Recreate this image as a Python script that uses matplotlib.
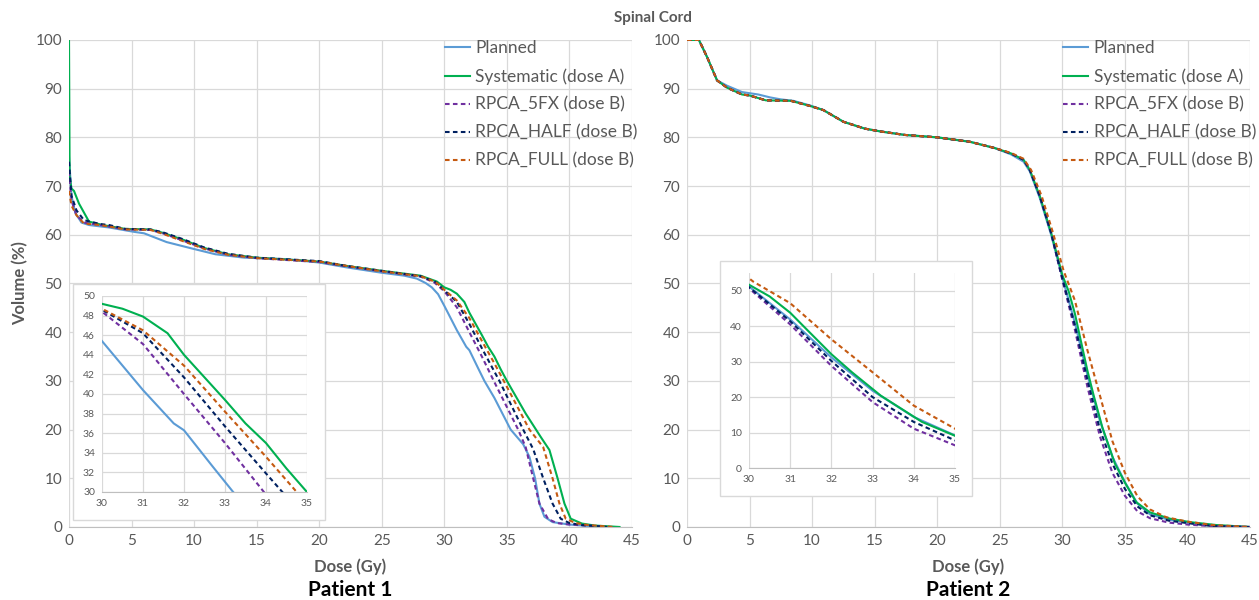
"""Spinal cord DVH comparison for two patients, with zoomed insets."""

import matplotlib
matplotlib.use("Agg")
import matplotlib.pyplot as plt
from matplotlib.patches import Rectangle

plt.rcParams["font.family"] = ["Lato", "DejaVu Sans"]

# ---- Patient 1 (dose in Gy, volume in %) ----
p1_planned_dose = [0, 0.2, 0.5, 1.0, 1.6, 3.2, 5.2, 6.0, 6.5, 7.8, 9.8, 11.7, 14, 17.3, 20, 22.2,
                   25, 26.8, 27.8, 28.5, 29.0, 29.5, 30, 31, 31.75, 32.0, 32.7, 33.2, 34, 35.3, 36.3,
                   36.8, 37.25, 37.6, 38.0, 38.65, 40, 42, 43]
p1_planned_vol = [76, 68, 64.5, 62.5, 62, 61.5, 60.6, 60.3, 59.8, 58.5, 57.2, 56, 55.3, 55, 54.3, 53.3,
                  52.2, 51.6, 51.0, 50.1, 49.2, 47.8, 45.4, 40.4, 37.0, 36.3, 32.6, 30, 26.5, 20, 17,
                  14.4, 10, 4.8, 2.1, 1.0, 0.5, 0.1, 0]

p1_syst_dose = [0, 0.05, 0.2, 0.4, 0.8, 1.6, 2.7, 4.5, 6.5, 7.5, 9.1, 10.8, 12.7, 15, 20, 22.2, 25,
                28.1, 29.4, 30, 30.5, 31, 31.6, 32, 32.5, 33, 33.5, 33.8, 34, 34.5, 35, 36.5,
                37.7, 38.4, 39.05, 39.6, 40.1, 41, 42, 44]
p1_syst_vol = [100, 72, 69.5, 69, 66.4, 62.7, 62, 61.2, 61.1, 60.4, 59, 57.3, 56, 55.3, 54.5, 53.6,
               52.6, 51.6, 50.4, 49.2, 48.7, 47.9, 46.2, 44, 41.7, 39.4, 37, 35.8, 35, 32.4, 30,
               23.3, 18.5, 15.8, 10, 4.8, 1.7, 0.7, 0.3, 0]

p1_5fx_dose = [0, 0.2, 0.6, 1.2, 2.5, 4.5, 6.5, 7.5, 9.1, 10.8, 12.7, 15, 20, 22.2, 25, 28.1, 29.2,
               30, 31, 32, 33, 33.95, 35.9, 36.5, 37.1, 37.6, 38.3, 39, 40, 42, 43]
p1_5fx_vol = [73, 67, 64, 62.5, 62, 61.1, 61, 60.3, 58.8, 57.2, 55.9, 55.2, 54.4, 53.5, 52.5, 51.4,
              50.2, 48.4, 45.1, 40, 35, 30, 20, 16.4, 10, 4.8, 1.6, 0.8, 0.5, 0.2, 0]

p1_half_dose = [0, 0.2, 0.6, 1.2, 2.5, 3.2, 4.5, 6.5, 7.5, 9.1, 10.8, 12.7, 15, 20, 22.2, 25, 28.1,
                29.3, 30, 31, 32, 33, 34, 34.4, 36.3, 37.1, 37.9, 38.65, 39.3, 40, 41, 43]
p1_half_vol = [75, 68, 65, 63, 62.2, 62, 61.2, 61.1, 60.5, 59.1, 57.4, 56.1, 55.3, 54.6, 53.6, 52.6,
               51.5, 50.3, 48.6, 46.2, 41.7, 36.7, 31.9, 30, 20, 16, 10, 4.8, 1.7, 0.8, 0.4, 0]

p1_full_dose = [0, 0.2, 0.6, 1.2, 2.5, 4.5, 6.5, 7.5, 9.1, 10.8, 12.7, 15, 20, 22.2, 25, 28.1, 29.3,
                30, 31, 32, 33, 34, 34.75, 36.8, 37.9, 38.65, 39.2, 39.7, 40.5, 41.5, 43.5]
p1_full_vol = [69, 66, 64, 62.3, 62, 61.1, 61, 60.2, 58.7, 57.1, 55.9, 55.2, 54.5, 53.6, 52.5, 51.5,
               50.3, 48.7, 46.5, 42.9, 38.2, 33.6, 30, 20, 16.4, 10, 4.8, 1.7, 0.8, 0.4, 0]

# ---- Patient 2 ----
p2_common_dose = [0, 0.95, 1.6, 2.4, 3.2, 4.4, 5.0, 6.3, 8.3, 9.9, 10.9, 12.5, 14.2, 15.5, 17.4, 20,
                  22.6, 24.6, 25.9, 26.9, 27.4, 28.2, 29.1]
p2_common_vol = [100, 100, 96.5, 91.7, 90.2, 88.8, 88.6, 87.6, 87.5, 86.4, 85.6, 83.2, 81.8, 81.2,
                 80.5, 80, 79.1, 77.8, 76.7, 75.4, 73.3, 67.9, 60.4]

p2_planned_dose = [0, 0.95, 1.6, 2.4, 3.2, 4.4, 5.7, 6.65, 7.5, 8.5, 9.9, 10.9, 12.5, 14.2, 15.5, 17.4,
                   20, 22.6, 24.6, 25.9, 26.9, 27.4, 28.2, 29.1, 30, 31, 32, 33, 34, 35, 36, 37,
                   38.5, 40.2, 42, 45]
p2_planned_vol = [100, 100, 96.5, 91.7, 90.6, 89.3, 88.8, 88.2, 87.8, 87.5, 86.5, 85.6, 83.2, 81.8,
                  81.2, 80.5, 80, 79.1, 77.8, 76.5, 75, 73, 67.5, 60, 51.2, 41.9, 31.2, 21.8, 14.4,
                  9.2, 4.8, 2.6, 1.5, 0.8, 0.2, 0]

p2_syst_dose = p2_common_dose + [30, 30.5, 31, 31.4, 32, 32.5, 33.2, 33.7, 34.2, 35, 35.9, 37, 38.6,
                                 40.2, 42.3, 45]
p2_syst_vol = p2_common_vol + [51.7, 48.4, 43.8, 39.1, 32.1, 27, 20.4, 16.7, 13, 9.1, 5.1, 3, 1.7,
                               1.0, 0.4, 0]

p2_5fx_dose = p2_common_dose + [30, 31, 32, 33, 34, 35, 36, 37, 38.5, 40, 42, 45]
p2_5fx_vol = p2_common_vol + [50.7, 40.5, 28.8, 18.6, 11.1, 6.4, 3.2, 1.8, 0.9, 0.5, 0.15, 0]

p2_half_dose = p2_common_dose + [30, 31, 32, 33, 34, 35, 36, 37, 38.5, 40, 42, 45]
p2_half_vol = p2_common_vol + [51, 41.4, 30.2, 20, 13, 7.8, 4.2, 2.4, 1.3, 0.8, 0.2, 0]

p2_full_dose = [0, 0.95, 1.6, 2.4, 3.2, 4.4, 5.0, 6.3, 8.3, 9.9, 10.9, 12.5, 14.2, 15.5, 17.4, 20,
                22.6, 24.6, 25.9, 26.9, 27.5, 28.35, 29.25, 30.1, 31, 32, 33, 34, 35, 36, 37, 38.3,
                40, 42, 45]
p2_full_vol = [100, 100, 96.5, 91.7, 90.2, 88.8, 88.6, 87.6, 87.5, 86.4, 85.6, 83.2, 81.8, 81.2,
               80.5, 80, 79.1, 77.8, 76.8, 75.6, 73.3, 67.9, 60.4, 52.6, 46.5, 36.3, 27, 17.6,
               11.1, 6.3, 3.6, 2.0, 1.1, 0.4, 0]

LABELS = ["Planned", "Systematic (dose A)", "RPCA_5FX (dose B)",
          "RPCA_HALF (dose B)", "RPCA_FULL (dose B)"]
COLORS = ["#5B9BD5", "#00B050", "#7030A0", "#002060", "#C55A11"]
DASHED = [False, False, True, True, True]

GRID = "#D9D9D9"
TEXT = "#595959"

PATIENTS = [
    [(p1_planned_dose, p1_planned_vol), (p1_syst_dose, p1_syst_vol), (p1_5fx_dose, p1_5fx_vol),
     (p1_half_dose, p1_half_vol), (p1_full_dose, p1_full_vol)],
    [(p2_planned_dose, p2_planned_vol), (p2_syst_dose, p2_syst_vol), (p2_5fx_dose, p2_5fx_vol),
     (p2_half_dose, p2_half_vol), (p2_full_dose, p2_full_vol)],
]


def draw_curves(ax, curves, lw):
    for (dose, vol), label, color, dashed in zip(curves, LABELS, COLORS, DASHED):
        line, = ax.plot(dose, vol, color=color, lw=lw, label=label)
        if dashed:
            line.set_dashes((2.2, 1.6))


def style_axes(ax, fontsize):
    for side in ["top", "right", "left"]:
        ax.spines[side].set_visible(False)
    ax.spines["bottom"].set_color("#BFBFBF")
    ax.grid(True, color=GRID, lw=0.9)
    ax.set_axisbelow(True)
    ax.tick_params(length=0, labelsize=fontsize, colors=TEXT, pad=5)


fig = plt.figure(figsize=(12.59, 6), dpi=100)

main_pos = [[0.0548, 0.1217, 0.4472, 0.8117], [0.5457, 0.1217, 0.4472, 0.8117]]
inset_pos = [[0.0810, 0.18, 0.1628, 0.3267], [0.5949, 0.22, 0.1636, 0.325]]
box_pos = [[0.058, 0.1333, 0.2002, 0.3933], [0.5719, 0.1733, 0.2002, 0.3917]]
inset_ylim = [(30, 50), (0, 55)]
inset_yticks = [list(range(30, 51, 2)), list(range(0, 51, 10))]

for i, curves in enumerate(PATIENTS):
    ax = fig.add_axes(main_pos[i])
    draw_curves(ax, curves, 1.5)
    ax.set_xlim(0, 45)
    ax.set_ylim(0, 100)
    ax.set_xticks(range(0, 46, 5))
    ax.set_yticks(range(0, 101, 10))
    style_axes(ax, 11)
    ax.legend(loc="upper left", bbox_to_anchor=(0.668, 0.999), frameon=False,
              fontsize=12.5, handlelength=1.45, handletextpad=0.3, labelspacing=0.68,
              borderpad=0, borderaxespad=0, labelcolor=TEXT)

    cx = main_pos[i][0] + main_pos[i][2] / 2
    fig.text(cx, 0.055, "Dose (Gy)", ha="center", va="center", fontsize=12,
             fontweight="bold", color=TEXT)
    fig.text(cx, 0.017, f"Patient {i + 1}", ha="center", va="center", fontsize=15,
             fontweight="bold", color="black")

    # white box behind the inset
    fig.patches.append(Rectangle(box_pos[i][:2], box_pos[i][2], box_pos[i][3],
                                 transform=fig.transFigure, facecolor="white",
                                 edgecolor=GRID, lw=1.0, zorder=1))
    ins = fig.add_axes(inset_pos[i])
    ins.set_zorder(2)
    draw_curves(ins, curves, 1.5)
    ins.set_xlim(30, 35)
    ins.set_ylim(*inset_ylim[i])
    ins.set_xticks(range(30, 36))
    ins.set_yticks(inset_yticks[i])
    style_axes(ins, 7.5)

fig.text(0.0159, 0.528, "Volume (%)", rotation=90, ha="center", va="center",
         fontsize=12, fontweight="bold", color=TEXT)
fig.text(0.519, 0.97, "Spinal Cord", ha="center", va="center", fontsize=11,
         fontweight="bold", color=TEXT)

fig.savefig("out.png", dpi=100)
